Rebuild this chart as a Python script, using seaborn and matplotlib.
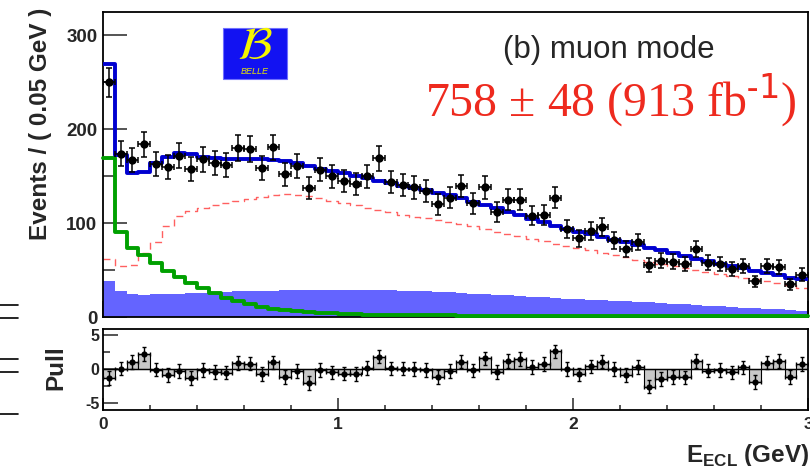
import numpy as np
import pandas as pd
import matplotlib
matplotlib.use('Agg')
import matplotlib.pyplot as plt
import seaborn as sns
from matplotlib.patches import Rectangle
from matplotlib.lines import Line2D
from matplotlib.ticker import MultipleLocator

# E_ECL bins, 0.05 GeV wide
centers = np.arange(60) * 0.05 + 0.025

# data points (events per bin)
data = [250, 174, 167, 184, 163, 160, 172, 158, 168, 164,
        162, 180, 179, 159, 181, 152, 161, 137, 157, 150,
        145, 142, 150, 169, 144, 141, 138, 134, 120, 127,
        140, 121, 138, 112, 125, 125, 108, 109, 127, 94,
        84, 92, 96, 82, 72, 80, 55, 60, 59, 56,
        72, 58, 56, 51, 54, 38, 54, 53, 35, 45]

# total fit (blue line)
total = [270, 173, 153, 154, 164, 171, 175, 174, 170, 169,
         168.5, 168, 168, 168, 167.5, 166, 164, 161, 158, 156,
         153, 150.5, 148, 145, 142.5, 140, 137.5, 135, 132.5, 130,
         127, 123, 119.5, 116, 112, 108.5, 104.5, 101, 97.5, 94,
         91, 88, 85, 82, 79.5, 77, 74, 71, 68, 65,
         62, 59.5, 57, 54.5, 52, 49.5, 47, 44.5, 42, 40]

# signal component (green)
signal = [169, 91, 73, 66, 58, 49.5, 42.5, 36.5, 30.5, 25.5,
          20.5, 17, 13.5, 11, 9, 7.5, 6.2, 5.2, 4.4, 3.8,
          3.3, 2.9, 2.6, 2.4, 2.2, 2.0, 1.9, 1.8, 1.7, 1.6,
          1.5, 1.5, 1.4, 1.4, 1.3, 1.3, 1.2, 1.2, 1.2, 1.1,
          1.1, 1.1, 1.0, 1.0, 1.0, 1.0, 0.9, 0.9, 0.9, 0.9,
          0.9, 0.8, 0.8, 0.8, 0.8, 0.8, 0.8, 0.7, 0.7, 0.7]

# background (blue filled)
bkg = [38, 28, 24, 23.5, 24, 24.5, 25, 25.5, 26, 26.5,
       27, 27.3, 27.6, 28, 28.2, 28.4, 28.6, 28.8, 29, 29,
       29, 29, 29, 28.8, 28.5, 28.2, 27.8, 27.3, 26.8, 26.2,
       25.6, 25, 24.4, 23.7, 23, 22.3, 21.6, 20.9, 20.3, 19.7,
       19.1, 18.5, 17.9, 17.3, 16.7, 16.1, 15.5, 14.9, 14.3, 13.6,
       12.9, 12.2, 11.5, 10.8, 10.1, 9.4, 8.7, 8.0, 7.3, 6.6]

# other component (red dashed)
other = [62, 54, 55, 68, 80, 97, 108, 113, 116, 119,
         121, 123.5, 126, 128, 130, 131, 130, 129, 127, 124,
         122, 119, 116, 114, 111.5, 109, 107, 105, 103, 101,
         99, 97, 94, 91, 88.5, 86, 83, 80.5, 78, 76,
         73.5, 71, 68.5, 66, 63.5, 61, 58.5, 56, 54, 52,
         50, 48, 46, 44, 42, 40, 38, 36, 34, 31]

df = pd.DataFrame({'x': centers, 'data': data, 'total': total,
                   'signal': signal, 'bkg': bkg, 'other': other})
df['err'] = np.sqrt(df['data'])
df['pull'] = (df['data'] - df['total']) / df['err']

sns.set_style('white')
plt.rcParams['font.family'] = ['Liberation Sans', 'DejaVu Sans']
plt.rcParams['axes.unicode_minus'] = False
plt.rcParams['axes.linewidth'] = 1.3
plt.rcParams['axes.edgecolor'] = 'black'

W, H = 810, 466
fig = plt.figure(figsize=(W / 100, H / 100), dpi=100)
ax = fig.add_axes([103 / W, 1 - 317 / H, 705 / W, 305 / H])
axp = fig.add_axes([103 / W, 1 - 410 / H, 705 / W, 81 / H])

hist_kw = dict(x='x', binwidth=0.05, binrange=(0, 3), element='step')

# ---- main panel
sns.histplot(data=df, weights='bkg', fill=True, color='#6464ff', alpha=1,
             linewidth=0, ax=ax, **hist_kw)
sns.histplot(data=df, weights='other', fill=False, color='#ff6060',
             linewidth=1.0, linestyle=(0, (5, 3.5)), ax=ax, **hist_kw)
sns.histplot(data=df, weights='signal', fill=False, color='#00a000',
             linewidth=2.8, zorder=3, clip_on=False, ax=ax, **hist_kw)
sns.histplot(data=df, weights='total', fill=False, color='#0000d0',
             linewidth=2.8, zorder=3.2, ax=ax, **hist_kw)
ax.errorbar(df['x'], df['data'], yerr=df['err'], xerr=0.025, fmt='none',
            ecolor='black', elinewidth=1.1, capsize=2, capthick=1.1, zorder=5)
sns.scatterplot(data=df, x='x', y='data', color='black', s=36,
                edgecolor='black', linewidth=0, zorder=6, ax=ax)

ax.set_xlim(0, 3)
ax.set_ylim(0, 325)
ax.set_xlabel('')
ax.set_ylabel('')
ax.yaxis.set_major_locator(MultipleLocator(100))
ax.yaxis.set_minor_locator(MultipleLocator(50))
ax.xaxis.set_major_locator(MultipleLocator(1))
ax.xaxis.set_minor_locator(MultipleLocator(0.2))
ax.tick_params(axis='y', which='major', direction='in', length=17, width=1.1,
               labelsize=13.5, pad=4, left=True, right=False)
ax.tick_params(axis='y', which='minor', direction='in', length=8.5, width=1.1,
               left=True, right=False)
ax.tick_params(axis='x', which='major', direction='in', length=11.5, width=1.1,
               bottom=True, top=False, labelbottom=False)
ax.tick_params(axis='x', which='minor', direction='in', length=5.8, width=1.1,
               bottom=True, top=False)
for t in ax.get_yticklabels():
    t.set_fontweight('bold')

# ---- pull panel
axp.bar(df['x'], df['pull'], width=0.05, color='#c8c8c8',
        edgecolor='black', linewidth=0.8)
axp.axhline(0, color='black', lw=1.0, zorder=3)
axp.errorbar(df['x'], df['pull'], yerr=1, xerr=0.025, fmt='none',
             ecolor='black', elinewidth=1.0, capsize=1.6, capthick=1.0, zorder=5)
sns.scatterplot(data=df, x='x', y='pull', color='black', s=20,
                edgecolor='black', linewidth=0, zorder=6, ax=axp)

axp.set_xlim(0, 3)
axp.set_ylim(-6, 5.9)
axp.set_xlabel('')
axp.set_ylabel('')
axp.yaxis.set_major_locator(MultipleLocator(5))
axp.yaxis.set_minor_locator(MultipleLocator(2.5))
axp.xaxis.set_major_locator(MultipleLocator(1))
axp.xaxis.set_minor_locator(MultipleLocator(0.2))
axp.tick_params(axis='y', which='major', direction='in', length=10.8, width=1.1,
                labelsize=11.5, pad=2.5, left=True, right=False)
axp.tick_params(axis='y', which='minor', direction='in', length=5, width=1.1,
                left=True, right=False)
axp.tick_params(axis='x', which='major', direction='in', length=8.6, width=1.1,
                labelsize=12.5, pad=5, bottom=True, top=False)
axp.tick_params(axis='x', which='minor', direction='in', length=3.6, width=1.1,
                bottom=True, top=False)
axp.set_xticks([0, 1, 2, 3])
axp.set_xticklabels(['0', '1', '2', '3'], fontweight='bold')
for t in axp.get_yticklabels():
    t.set_fontweight('bold')

# ---- labels and annotations
fig.text(41 / W, 1 - 8 / H, 'Events / ( 0.05 GeV )', rotation=90, ha='center',
         va='top', fontsize=17.5, fontweight='bold')
fig.text(56 / W, 1 - 368 / H, 'Pull', rotation=90, ha='center', va='center',
         fontsize=17.5, fontweight='bold')
fig.text(809 / W, 1 - 462 / H, r'E$_{\mathregular{ECL}}$ (GeV)', ha='right',
         va='baseline', fontsize=17.5, fontweight='bold')
fig.text(503 / W, 1 - 58 / H, '(b) muon mode', ha='left', va='baseline',
         fontsize=22.5, fontweight='normal')
fig.text(425 / W, 1 - 116 / H, '758 ± 48 (913 fb$^{\\mathregular{\u2010}1}$)',
         ha='left', va='baseline', fontsize=34.5, color='#ee2a1e',
         family=['Liberation Serif', 'DejaVu Serif'], fontweight='normal')

# Belle logo
fig.add_artist(Rectangle((223 / W, 1 - 79 / H), 64 / W, 51 / H,
                         transform=fig.transFigure, facecolor='#1212f2',
                         edgecolor='#7070ff', linewidth=0.8))
fig.text(255 / W, 1 - 47 / H, r'$\mathcal{B}$', ha='center', va='center',
         fontsize=34, color='#f5f500')
fig.text(255 / W, 1 - 72 / H, 'BELLE', ha='center', va='center',
         fontsize=6.5, style='italic', color='#e8e800', fontweight='normal')

# stray tick marks at the left edge
for yy in [305, 318, 359, 372, 414]:
    fig.add_artist(Line2D([0, 18 / W], [1 - yy / H, 1 - yy / H],
                          transform=fig.transFigure, color='black', lw=1.2))

fig.savefig('out.png', dpi=100)
